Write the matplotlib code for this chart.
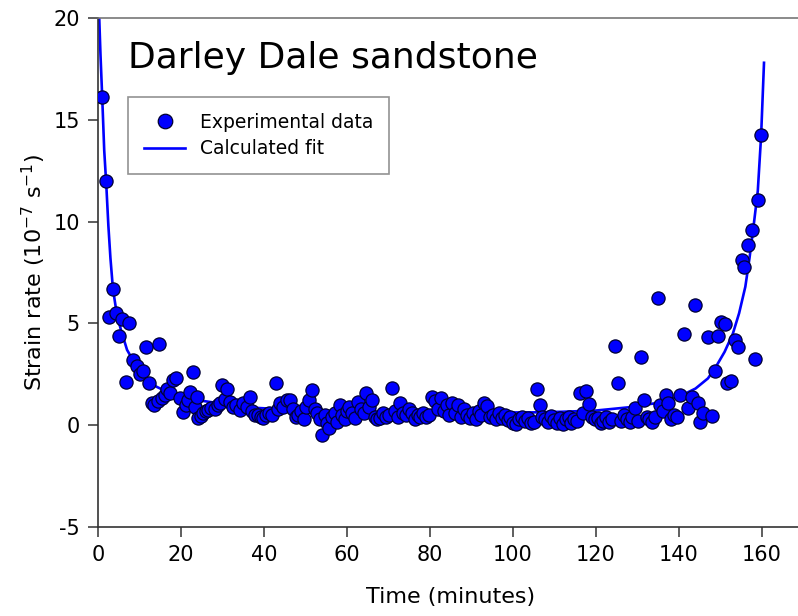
import numpy as np
import matplotlib.pyplot as plt

plt.rcParams['axes.unicode_minus'] = False

time_min = [1.0, 1.9, 2.7, 3.6, 4.3, 5.1, 5.8, 6.7, 7.5, 8.4, 9.4, 10.2, 10.8, 11.6, 12.3,
            13.0, 13.6, 14.4, 14.7, 15.4, 16.1, 16.6, 17.3, 18.0, 18.8, 19.8, 20.5, 21.2,
            21.7, 22.2, 22.9, 23.4, 23.9, 24.1, 24.8, 25.3, 26.0, 26.5, 27.2, 28.2, 29.0,
            29.4, 29.9, 30.5, 31.0, 31.8, 32.5, 33.3, 34.2, 35.0, 35.8, 36.6, 37.2, 37.8,
            38.6, 39.2, 39.8, 40.5, 41.2, 41.9, 42.9, 43.4, 43.9, 44.6, 45.5, 46.3, 47.0,
            47.6, 48.3, 49.0, 49.6, 50.2, 50.8, 51.6, 52.2, 52.8, 53.4, 53.9, 54.6, 55.2,
            55.7, 56.4, 57.0, 57.6, 58.3, 58.9, 59.5, 60.1, 60.6, 61.2, 61.9, 62.7, 63.3,
            64.0, 64.6, 65.3, 66.0, 66.7, 67.3, 68.0, 68.7, 69.4, 70.1, 70.8, 71.5, 72.2,
            72.8, 73.5, 74.2, 74.9, 75.6, 76.3, 77.0, 77.7, 78.4, 79.1, 79.8, 80.5, 81.2,
            81.9, 82.6, 83.3, 84.0, 84.7, 85.4, 86.1, 86.8, 87.5, 88.2, 88.9, 89.6, 90.3,
            91.0, 91.7, 92.4, 93.1, 93.8, 94.5, 95.2, 95.9, 96.6, 97.3, 98.0, 98.7, 99.4,
            100.1, 100.8, 101.5, 102.2, 102.9, 103.6, 104.3, 105.0, 105.7, 106.4, 107.1,
            107.8, 108.5, 109.2, 109.9, 110.6, 111.3, 112.0, 112.7, 113.4, 114.1, 114.8,
            115.5, 116.2, 116.9, 117.6, 118.3, 119.0, 119.7, 120.4, 121.1, 121.8, 122.5,
            123.2, 123.9, 124.6, 125.3, 126.0, 126.7, 127.4, 128.1, 128.8, 129.4, 130.1,
            130.8, 131.5, 132.2, 132.9, 133.6, 134.3, 135.0, 135.5, 136.2, 136.8, 137.4,
            138.1, 138.8, 139.5, 140.2, 141.2, 142.2, 143.1, 143.8, 144.6, 145.1, 145.8,
            147.0, 148.0, 148.7, 149.4, 150.1, 151.1, 151.6, 152.5, 153.5, 154.2, 155.2,
            155.7, 156.6, 157.6, 158.3, 159.0, 159.8]
strain_rate = [16.1, 12.0, 5.3, 6.7, 5.5, 4.4, 5.2, 2.1, 5.0, 3.2, 2.9, 2.5, 2.65, 3.85, 2.05,
               1.1, 1.0, 1.2, 4.0, 1.35, 1.5, 1.8, 1.6, 2.2, 2.3, 1.33, 0.64, 1.0,
               1.23, 1.62, 2.6, 0.9, 1.38, 0.34, 0.45, 0.59, 0.7, 0.74, 0.85, 0.79, 1.0,
               1.08, 1.96, 1.3, 1.77, 1.13, 0.9, 1.0, 0.74, 1.1, 0.9, 1.38, 0.7, 0.49,
               0.5, 0.4, 0.34, 0.5, 0.6, 0.49, 2.06, 0.8, 1.08, 0.9, 1.23, 1.23, 0.8,
               0.4, 0.5, 0.7, 0.3, 0.9, 1.23, 1.72, 0.8, 0.6, 0.3, -0.5, 0.5, 0.1,
               -0.15, 0.4, 0.6, 0.15, 0.98, 0.5, 0.3, 0.7, 0.9, 0.59, 0.35, 1.13, 0.8,
               0.6, 1.57, 0.9, 1.23, 0.4, 0.3, 0.35, 0.6, 0.4, 0.5, 1.82, 0.7, 0.4,
               1.08, 0.6, 0.5, 0.8, 0.6, 0.3, 0.5, 0.4, 0.6, 0.4, 0.5, 1.38, 1.2,
               0.8, 1.33, 0.7, 1.0, 0.5, 1.1, 0.6, 0.98, 0.4, 0.8, 0.5, 0.35, 0.6,
               0.3, 0.7, 0.5, 1.08, 0.95, 0.4, 0.5, 0.3, 0.6, 0.35, 0.5, 0.25, 0.4,
               0.1, 0.05, 0.3, 0.4, 0.2, 0.35, 0.1, 0.15, 1.77, 0.98, 0.4,
               0.3, 0.15, 0.45, 0.25, 0.1, 0.35, 0.05, 0.3, 0.4, 0.1, 0.3,
               0.2, 1.57, 0.6, 1.67, 1.03, 0.4, 0.3, 0.35, 0.1, 0.2, 0.4,
               0.15, 0.3, 3.88, 2.06, 0.2, 0.5, 0.3, 0.15, 0.4, 0.83, 0.2,
               3.34, 1.23, 0.4, 0.3, 0.15, 0.4, 6.25, 0.98, 0.7, 1.47, 1.08,
               0.3, 0.5, 0.39, 1.47, 4.47, 0.83, 1.38, 5.9, 1.08, 0.15, 0.59,
               4.32, 0.44, 2.65, 4.37, 5.06, 4.96, 2.06, 2.16, 4.17, 3.83, 8.1,
               7.76, 8.84, 9.6, 3.24, 11.05, 14.24]

# calculated fit
fit_time = [0.3, 0.6, 1.0, 1.5, 2.0, 2.5, 3.0, 3.6, 4.5, 5.5, 7.0, 8.4, 10.0, 12.0, 14.0,
            17.0, 20.0, 25.0, 30.0, 38.0, 45.0, 55.0, 65.0, 75.0, 85.0, 95.0, 105.0,
            112.0, 120.0, 128.0, 135.0, 140.0, 144.0, 147.0, 149.0, 151.0, 153.0, 154.5,
            156.0, 157.0, 158.0, 159.0, 159.8, 160.5]
fit_rate = [20.0, 18.2, 16.2, 13.5, 11.8, 9.8, 8.2, 6.7, 5.5, 4.7, 3.7, 3.2, 2.7, 2.25, 1.9,
            1.6, 1.4, 1.2, 1.05, 0.85, 0.78, 0.7, 0.66, 0.64, 0.62, 0.62, 0.63,
            0.66, 0.72, 0.88, 1.1, 1.4, 1.8, 2.3, 2.9, 3.6, 4.5, 5.5,
            6.8, 8.2, 9.8, 11.5, 14.2, 17.8]

fig = plt.figure(figsize=(7.98, 6.16), dpi=100)
ax = fig.add_axes([0.1228, 0.1445, 0.884, 0.8263])

ax.plot(fit_time, fit_rate, color='#0000ff', lw=1.9, label='Calculated fit', zorder=2)
ax.plot(time_min, strain_rate, 'o', ms=9.5, mfc='#0000ff', mec='#000033', mew=0.9,
        label='Experimental data', zorder=3)

ax.set_xlim(0, 170)
ax.set_ylim(-5, 20)
ax.set_xticks(np.arange(0, 161, 20))
ax.set_yticks(np.arange(-5, 21, 5))
ax.spines['right'].set_visible(False)
for s in ['left', 'bottom']:
    ax.spines[s].set_color('#333333')
    ax.spines[s].set_linewidth(1.2)
ax.spines['top'].set_color('#777777')
ax.spines['top'].set_linewidth(1.2)
ax.tick_params(direction='out', length=7, width=1.1, color='#333333',
               labelsize=15, pad=6)

ax.set_xlabel('Time (minutes)', fontsize=16, labelpad=16)
ax.set_ylabel('Strain rate (10$^{-7}$ s$^{-1}$)', fontsize=16, labelpad=4)

ax.text(0.043, 0.955, 'Darley Dale sandstone', transform=ax.transAxes,
        fontsize=26, va='top', ha='left')

handles, labels = ax.get_legend_handles_labels()
leg = ax.legend(handles[::-1], labels[::-1], loc='upper left',
                bbox_to_anchor=(0.0425, 0.845), borderaxespad=0, fontsize=13.5,
                fancybox=False, frameon=True, handlelength=2.2, borderpad=0.85,
                labelspacing=0.4, markerscale=1.1)
leg.get_frame().set_edgecolor('#777777')
leg.get_frame().set_linewidth(1.2)

fig.savefig('out.png', dpi=100)
